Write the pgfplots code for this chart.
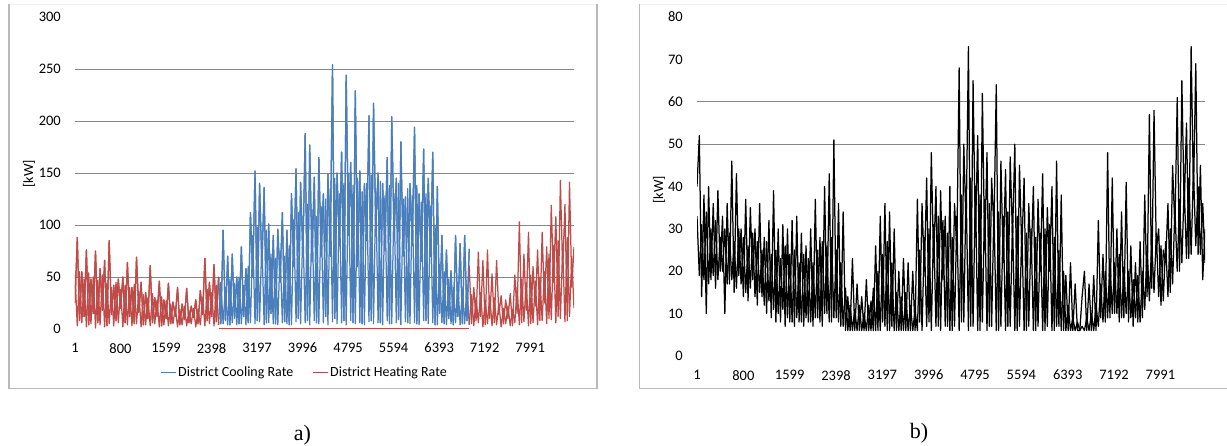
\documentclass[border=0pt]{standalone}
\usepackage{fontspec}
\setmainfont{Carlito}
\newfontfamily\timesfont{Liberation Serif}
\usepackage{pgfplots}
\usepackage{pgfplotstable}
\pgfplotsset{compat=1.18}
\definecolor{cool}{HTML}{4A7EBB}
\definecolor{heat}{HTML}{BE4B48}
\definecolor{gridc}{HTML}{868686}

% hour, kW read at the peaks/troughs (v) and along the dense band (c)
% District heating, January - April
\pgfplotstableread[row sep=\\]{h v c\\
1 25 52\\ 41 88 3\\ 81 8 55\\ 121 55 6\\ 161 12 48\\ 201 76 2\\ 241 4 54\\ 281 48 5\\
321 15 50\\ 361 75 1\\ 401 6 47\\ 441 58 4\\ 481 18 52\\ 521 66 2\\ 561 3 44\\ 601 85 5\\
641 14 40\\ 681 42 3\\ 721 8 45\\ 761 48 6\\ 801 20 38\\ 841 50 2\\ 881 6 42\\ 921 64 4\\
961 12 40\\ 1001 40 3\\ 1041 5 43\\ 1081 69 5\\ 1121 16 36\\ 1161 45 2\\ 1201 4 33\\ 1241 35 4\\
1281 10 30\\ 1321 61 3\\ 1361 6 34\\ 1401 30 5\\ 1441 12 28\\ 1481 46 2\\ 1521 3 31\\ 1561 28 4\\
1601 10 27\\ 1641 44 3\\ 1681 5 24\\ 1721 26 5\\ 1761 12 21\\ 1801 40 2\\ 1841 4 19\\ 1881 24 4\\
1921 9 22\\ 1961 39 3\\ 2001 6 18\\ 2041 22 5\\ 2081 11 20\\ 2121 28 2\\ 2161 5 19\\ 2201 37 4\\
2241 14 30\\ 2281 68 3\\ 2321 8 38\\ 2361 45 5\\ 2401 12 35\\ 2441 62 3\\ 2481 7 42\\ 2521 50 4\\
}\heatA
% District heating, October - December
\pgfplotstableread[row sep=\\]{h v c\\
6921 61 4\\ 6961 5 33\\ 7001 40 3\\ 7041 8 30\\ 7081 74 6\\ 7121 12 35\\ 7161 66 2\\ 7201 4 28\\
7241 76 5\\ 7281 10 32\\ 7321 53 3\\ 7361 6 30\\ 7401 66 4\\ 7441 14 24\\ 7481 32 2\\ 7521 5 20\\
7561 28 5\\ 7601 10 22\\ 7641 34 3\\ 7681 3 19\\ 7721 52 6\\ 7761 15 40\\ 7801 103 4\\ 7841 6 48\\
7881 72 7\\ 7921 18 45\\ 7961 93 3\\ 8001 5 52\\ 8041 60 6\\ 8081 22 46\\ 8121 76 4\\ 8161 8 50\\
8201 93 8\\ 8241 25 55\\ 8281 79 5\\ 8321 10 72\\ 8361 119 9\\ 8401 45 80\\ 8441 108 6\\ 8481 12 85\\
8521 143 10\\ 8561 55 78\\ 8601 120 7\\ 8641 8 88\\ 8681 141 12\\ 8721 40 70\\ 8760 79 20\\
}\heatB
% District cooling
\pgfplotstableread[row sep=\\]{h v c\\
2521 50 4\\ 2561 5 45\\ 2601 95 5\\ 2641 8 40\\ 2681 70 4\\ 2721 4 48\\ 2761 72 6\\ 2801 10 44\\
2841 50 4\\ 2881 5 50\\ 2921 79 5\\ 2961 12 42\\ 3001 58 4\\ 3041 6 60\\ 3081 112 6\\ 3121 50 90\\
3161 152 5\\ 3201 8 98\\ 3241 140 7\\ 3281 60 85\\ 3321 136 4\\ 3361 6 95\\ 3401 101 6\\ 3441 15 72\\
3481 90 5\\ 3521 5 68\\ 3561 96 4\\ 3601 45 75\\ 3641 112 6\\ 3681 7 70\\ 3721 95 5\\ 3761 4 80\\
3801 130 4\\ 3841 60 105\\ 3881 154 7\\ 3921 10 112\\ 3961 141 5\\ 4001 70 100\\ 4041 188 6\\ 4081 8 120\\
4121 177 4\\ 4161 65 115\\ 4201 146 8\\ 4241 6 108\\ 4281 165 5\\ 4321 70 118\\ 4361 130 6\\ 4401 12 125\\
4441 149 4\\ 4481 70 135\\ 4521 254 7\\ 4561 10 145\\ 4601 150 5\\ 4641 80 130\\ 4681 170 6\\ 4721 8 140\\
4761 244 4\\ 4801 90 150\\ 4841 160 8\\ 4881 6 138\\ 4921 229 5\\ 4961 60 145\\ 5001 152 6\\ 5041 5 132\\
5081 140 4\\ 5121 85 140\\ 5161 205 7\\ 5201 8 148\\ 5241 217 5\\ 5281 95 135\\ 5321 150 6\\ 5361 6 142\\
5401 140 4\\ 5441 75 128\\ 5481 165 8\\ 5521 5 138\\ 5561 204 5\\ 5601 90 130\\ 5641 145 6\\ 5681 9 140\\
5721 180 4\\ 5761 70 125\\ 5801 127 7\\ 5841 6 135\\ 5881 140 5\\ 5921 80 128\\ 5961 194 6\\ 6001 5 138\\
6041 130 4\\ 6081 65 122\\ 6121 173 8\\ 6161 8 130\\ 6201 145 5\\ 6241 70 118\\ 6281 170 6\\ 6321 4 100\\
6361 137 4\\ 6401 15 62\\ 6441 90 6\\ 6481 5 55\\ 6521 76 4\\ 6561 10 48\\ 6601 56 5\\ 6641 4 40\\
6681 90 6\\ 6721 12 45\\ 6761 82 4\\ 6801 5 38\\ 6841 90 5\\ 6881 8 42\\ 6921 77 4\\
}\cool
% Panel b
\pgfplotstableread[row sep=\\]{h v c\\
1 40 33\\ 41 52 19\\ 81 14 31\\ 121 38 18\\ 161 10 34\\ 201 40 17\\ 241 18 30\\ 281 36 19\\
321 16 32\\ 361 39 18\\ 401 20 28\\ 441 33 20\\ 481 10 30\\ 521 36 17\\ 561 17 29\\ 601 46 18\\
641 15 27\\ 681 43 16\\ 721 19 30\\ 761 30 17\\ 801 14 28\\ 841 37 15\\ 881 13 26\\ 921 35 16\\
961 18 29\\ 1001 30 14\\ 1041 12 27\\ 1081 36 15\\ 1121 14 25\\ 1161 28 12\\ 1201 10 27\\ 1241 32 13\\
1281 9 24\\ 1321 39 11\\ 1361 8 25\\ 1401 30 10\\ 1441 8 23\\ 1481 31 11\\ 1521 7 26\\ 1561 30 9\\
1601 8 24\\ 1641 32 8\\ 1681 7 25\\ 1721 33 9\\ 1761 8 22\\ 1801 29 8\\ 1841 7 24\\ 1881 26 9\\
1921 8 23\\ 1961 30 8\\ 2001 7 22\\ 2041 37 9\\ 2081 9 25\\ 2121 28 8\\ 2161 7 27\\ 2201 40 10\\
2241 10 26\\ 2281 43 8\\ 2321 8 28\\ 2361 51 9\\ 2401 9 25\\ 2441 36 8\\ 2481 7 22\\ 2521 34 7\\
2561 6 16\\ 2601 14 6\\ 2641 6 12\\ 2681 23 6\\ 2721 6 11\\ 2761 17 6\\ 2801 6 12\\ 2841 14 6\\
2881 6 10\\ 2921 18 6\\ 2961 6 12\\ 3001 13 6\\ 3041 6 16\\ 3081 26 6\\ 3121 6 20\\ 3161 33 6\\
3201 8 24\\ 3241 36 7\\ 3281 6 27\\ 3321 34 6\\ 3361 7 22\\ 3401 30 6\\ 3441 6 15\\ 3481 20 6\\
3521 6 14\\ 3561 23 6\\ 3601 6 15\\ 3641 22 6\\ 3681 6 12\\ 3721 20 6\\ 3761 6 11\\ 3801 37 6\\
3841 8 25\\ 3881 36 6\\ 3921 20 28\\ 3961 42 7\\ 4001 8 30\\ 4041 48 6\\ 4081 22 31\\ 4121 40 7\\
4161 7 33\\ 4201 39 6\\ 4241 18 32\\ 4281 33 7\\ 4321 7 29\\ 4361 40 6\\ 4401 6 28\\ 4441 36 7\\
4481 25 33\\ 4521 68 6\\ 4561 8 38\\ 4601 50 8\\ 4641 30 40\\ 4681 73 6\\ 4721 7 42\\ 4761 65 7\\
4801 28 40\\ 4841 52 6\\ 4881 6 38\\ 4921 62 8\\ 4961 25 37\\ 5001 48 6\\ 5041 7 36\\ 5081 42 7\\
5121 30 35\\ 5161 64 6\\ 5201 6 34\\ 5241 46 7\\ 5281 22 33\\ 5321 44 6\\ 5361 7 34\\ 5401 47 7\\
5441 28 32\\ 5481 50 6\\ 5521 6 33\\ 5561 45 7\\ 5601 25 30\\ 5641 42 6\\ 5681 6 29\\ 5721 36 7\\
5761 22 30\\ 5801 40 6\\ 5841 6 28\\ 5881 37 7\\ 5921 20 29\\ 5961 43 6\\ 6001 6 30\\ 6041 35 7\\
6081 20 31\\ 6121 40 6\\ 6161 6 28\\ 6201 46 7\\ 6241 7 25\\ 6281 38 6\\ 6321 6 20\\ 6361 19 6\\
6401 6 12\\ 6441 22 6\\ 6481 6 9\\ 6521 17 6\\ 6561 6 8\\ 6601 6 6\\ 6641 14 7\\ 6681 20 6\\
6721 6 9\\ 6761 17 6\\ 6801 6 10\\ 6841 19 6\\ 6881 6 12\\ 6921 32 7\\ 6961 9 17\\ 7001 24 8\\
7041 8 20\\ 7081 48 9\\ 7121 9 23\\ 7161 42 10\\ 7201 10 22\\ 7241 30 10\\ 7281 8 24\\ 7321 34 9\\
7361 9 21\\ 7401 41 10\\ 7441 8 20\\ 7481 26 9\\ 7521 7 18\\ 7561 22 9\\ 7601 8 19\\ 7641 27 8\\
7681 9 20\\ 7721 38 11\\ 7761 14 26\\ 7801 57 13\\ 7841 16 27\\ 7881 58 15\\ 7921 25 29\\ 7961 30 14\\
8001 12 26\\ 8041 25 13\\ 8081 22 27\\ 8121 36 14\\ 8161 15 30\\ 8201 45 17\\ 8241 30 35\\ 8281 61 20\\
8321 20 37\\ 8361 65 22\\ 8401 35 40\\ 8441 55 23\\ 8481 23 42\\ 8521 73 24\\ 8561 38 44\\ 8601 69 26\\
8641 24 40\\ 8681 45 24\\ 8721 18 36\\ 8760 30 22\\
}\total

\pgfplotsset{
  common/.style={
    scale only axis,
    xmin=1, xmax=8760,
    axis line style={draw=none},
    major tick length=0pt,
    xtick={1,800,1599,2398,3197,3996,4795,5594,6393,7192,7991},
    xticklabels={1,800,1599,2398,3197,3996,4795,5594,6393,7192,7991},
    tick label style={font=\fontsize{14.5}{16}\selectfont},
    xticklabel style={anchor=north, inner sep=0pt, yshift=-14pt},
    yticklabel style={anchor=east, inner sep=0pt, xshift=-14pt},
    /pgf/number format/assume math mode=true,
    ylabel={[kW]},
    label style={font=\fontsize{14}{16}\selectfont},
    extra y tick labels={},
    extra y tick style={grid=major, major grid style={gridc, line width=0.8pt}},
    clip=true,
  },
  series/.style={line width=1.25pt, line join=round, mark=none},
}

\begin{document}
\begin{tikzpicture}
\path[use as bounding box] (0,0) rectangle (1227pt,446pt);
% chart frames
\draw[gray!12, line width=1pt] (9pt,441.5pt) -- (597pt,441.5pt);
\draw[gray!55, line width=1.3pt] (9pt,441.5pt) -- (9pt,57.5pt) -- (597pt,57.5pt) -- (597pt,441.5pt);
\draw[gray!12, line width=1pt] (639.5pt,441.5pt) -- (1227pt,441.5pt);
\draw[gray!55, line width=1.3pt] (639.5pt,441.5pt) -- (639.5pt,57.5pt) -- (1227pt,57.5pt);

\begin{axis}[common,
  at={(75pt,117pt)}, anchor=south west,
  width=499pt, height=312pt,
  ymin=0, ymax=300, ytick={0,50,...,300},
  extra y ticks={50,100,150,200,250},
  ylabel style={at={(axis description cs:-0.092,0.497)}, anchor=center},
  legend style={at={(0.46,-0.138)}, anchor=center, draw=none, fill=none,
    legend columns=2, font=\fontsize{14}{16}\selectfont,
    nodes={inner xsep=2pt, inner ysep=1pt},
    /tikz/every even column/.append style={column sep=17pt}},
  legend image code/.code={\draw[#1, line width=0.9pt] (0pt,0pt) -- (15pt,0pt);},
]
\addplot[series, cool] table[x=h, y=v] {\cool};
\addlegendentry{District Cooling Rate}
\addplot[series, heat] table[x=h, y=v] {\heatA};
\addlegendentry{District Heating Rate}
\addplot[series, cool, forget plot] table[x=h, y=c] {\cool};
\addplot[series, cool, forget plot] table[x=h, y=v] {\cool};
\addplot[series, heat, forget plot] table[x=h, y=c] {\heatA};
\addplot[series, heat, forget plot] table[x=h, y=c] {\heatB};
\addplot[series, heat, forget plot] table[x=h, y=v] {\heatA};
\addplot[series, heat, line width=1pt, forget plot] coordinates {(2521,0) (6921,0)};
\addplot[series, heat, forget plot] table[x=h, y=v] {\heatB};
\end{axis}

\begin{axis}[common,
  at={(697pt,90pt)}, anchor=south west,
  width=508pt, height=339pt,
  ymin=0, ymax=80, ytick={0,10,...,80},
  extra y ticks={50,60},
  ylabel style={at={(axis description cs:-0.075,0.49)}, anchor=center},
]
\addplot[series, black] table[x=h, y=c] {\total};
\addplot[series, black] table[x=h, y=v] {\total};
\end{axis}

\node[font=\timesfont\fontsize{22}{24}\selectfont] at (302.5pt,11pt) {a)};
\node[font=\timesfont\fontsize{22}{24}\selectfont] at (919pt,12.5pt) {b)};
\end{tikzpicture}
\end{document}
